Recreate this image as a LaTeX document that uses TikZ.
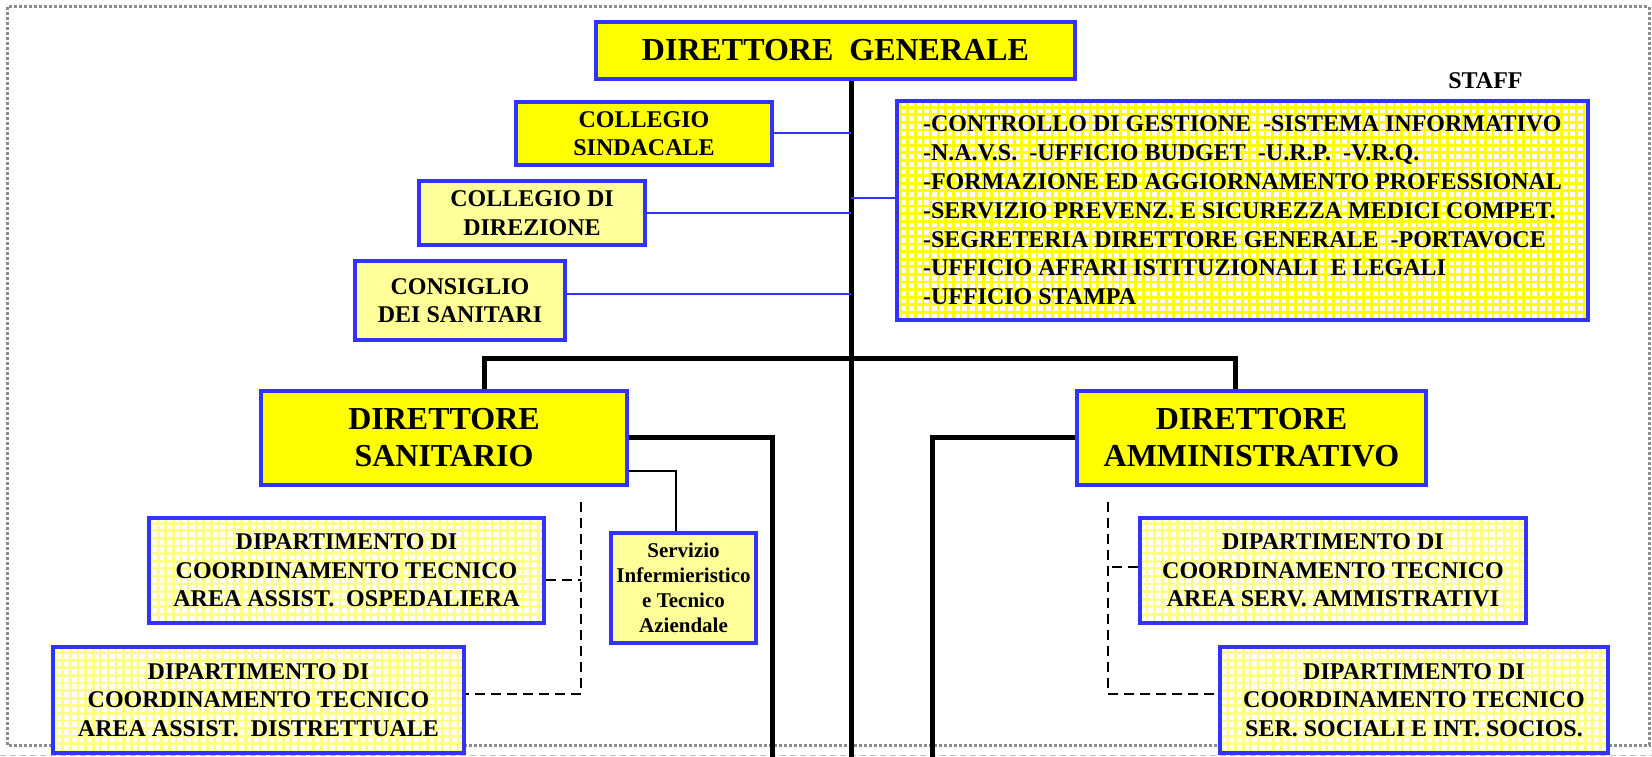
\documentclass[tikz,border=0pt]{standalone}
\usepackage{fontspec}
\setmainfont{Liberation Serif}
\usetikzlibrary{shadows}
\definecolor{bluebd}{HTML}{3333FF}
\definecolor{ybright}{HTML}{FFFF00}
\definecolor{ylight}{HTML}{FFFF99}
\definecolor{ygrid}{HTML}{FFFF88}
\definecolor{bordergray}{HTML}{8C8C8C}
\frenchspacing
\begin{document}
\begin{tikzpicture}[x=1pt,y=-1pt,
  box/.style={draw=bluebd, line width=4pt, align=center, font=\bfseries, inner sep=0pt},
  shad/.style={drop shadow={shadow xshift=2pt, shadow yshift=-2pt, fill=black!30, opacity=1}},
  brightbox/.style={box, fill=ybright},
  lightbox/.style={box, fill=ylight},
  gridbox/.style={box, fill=white, path picture={\draw[ygrid, line width=2.8pt] (path picture bounding box.south west) grid[step=7.6pt] (path picture bounding box.north east);}},
  staffbox/.style={box, fill=white, path picture={\draw[ybright, line width=2.8pt] (path picture bounding box.south west) grid[step=7.6pt] (path picture bounding box.north east);}},
  bar/.style={black, line width=5pt, line join=miter},
  blueln/.style={bluebd, line width=2pt},
  thinln/.style={black, line width=2pt},
  dashln/.style={black, line width=2.5pt, dash pattern=on 10pt off 6pt}
]
\useasboundingbox (0,0) rectangle (1652,757);
% page border
\draw[bordergray, line width=3pt, dash pattern=on 3pt off 2pt] (7,7) rectangle (1649,745);
\draw[black!25, line width=1pt, dash pattern=on 6pt off 4pt] (0,755) -- (1652,755);

% coordinates for free ends
\coordinate (vbot) at (851,757);
\coordinate (barL) at (484,358);
\coordinate (barR) at (1235,358);
\coordinate (dsd) at (772,757);
\coordinate (dad) at (932,757);
\coordinate (ldt) at (581,502);
\coordinate (rdt) at (1108,502);

% nodes
\node[brightbox, shad, minimum width=479pt, minimum height=57pt, font=\bfseries\fontsize{32}{37}\selectfont] (DG) at (835.5,50.5) {DIRETTORE\ \ GENERALE};
\node[font=\bfseries\fontsize{24}{28}\selectfont, inner sep=0pt] (STAFF) at (1485.5,81) {STAFF};
\node[brightbox, shad, minimum width=256pt, minimum height=63pt, font=\bfseries\fontsize{24}{28.5}\selectfont] (CS) at (644,133.5) {COLLEGIO\\SINDACALE};
\node[lightbox, minimum width=226pt, minimum height=64pt, font=\bfseries\fontsize{24}{28.5}\selectfont] (CD) at (532,213) {COLLEGIO DI\\DIREZIONE};
\node[lightbox, minimum width=210pt, minimum height=79pt, font=\bfseries\fontsize{24}{28.5}\selectfont] (CN) at (460,300.5) {CONSIGLIO\\DEI SANITARI};
\node[staffbox, align=left, minimum width=691pt, minimum height=219pt, font=\bfseries\fontsize{24}{28.8}\selectfont] (ST) at (1242.5,210.5) {-CONTROLLO DI GESTIONE\ \ -SISTEMA INFORMATIVO\\-N.A.V.S.\ \ -UFFICIO BUDGET\ \ -U.R.P.\ \ -V.R.Q.\\-FORMAZIONE ED AGGIORNAMENTO PROFESSIONAL\\-SERVIZIO PREVENZ. E SICUREZZA MEDICI COMPET.\\-SEGRETERIA DIRETTORE GENERALE\ \ -PORTAVOCE\\-UFFICIO AFFARI ISTITUZIONALI\ \ E LEGALI\\-UFFICIO STAMPA};
\node[brightbox, shad, minimum width=366pt, minimum height=94pt, font=\bfseries\fontsize{32}{37}\selectfont] (DS) at (444,438) {DIRETTORE\\SANITARIO};
\node[brightbox, shad, minimum width=349pt, minimum height=94pt, font=\bfseries\fontsize{32}{37}\selectfont] (DA) at (1251.5,438) {DIRETTORE\\AMMINISTRATIVO};
\node[lightbox, minimum width=145pt, minimum height=110pt, font=\bfseries\fontsize{21}{25}\selectfont] (SI) at (683.5,588) {Servizio\\Infermieristico\\e Tecnico\\Aziendale};
\node[gridbox, minimum width=395pt, minimum height=105pt, font=\bfseries\fontsize{24}{28.5}\selectfont] (L1) at (346.5,570.5) {DIPARTIMENTO DI\\COORDINAMENTO TECNICO\\AREA ASSIST.\ \ OSPEDALIERA};
\node[gridbox, minimum width=411pt, minimum height=106pt, font=\bfseries\fontsize{24}{28.5}\selectfont] (L2) at (258.5,700) {DIPARTIMENTO DI\\COORDINAMENTO TECNICO\\AREA ASSIST.\ \ DISTRETTUALE};
\node[gridbox, minimum width=386pt, minimum height=105pt, font=\bfseries\fontsize{24}{28.5}\selectfont] (R1) at (1333,570.5) {DIPARTIMENTO DI\\COORDINAMENTO TECNICO\\AREA SERV. AMMISTRATIVI};
\node[gridbox, minimum width=388pt, minimum height=106pt, font=\bfseries\fontsize{24}{28.5}\selectfont] (R2) at (1414,700) {DIPARTIMENTO DI\\COORDINAMENTO TECNICO\\SER. SOCIALI E INT. SOCIOS.};

% connectors
\draw[bar] (DG.south -| vbot) -- (vbot);
\draw[blueln] (CS.east) -- (CS.east -| vbot);
\draw[blueln] (CD.east) -- (CD.east -| vbot);
\draw[blueln] ([yshift=6.5pt]CN.east) -- ([yshift=6.5pt]CN.east -| vbot);
\draw[blueln] ([yshift=13pt]ST.west) -- ([yshift=13pt]ST.west -| vbot);
\draw[bar] (DS.north -| barL) -- (barL) -- (barR) -- (DA.north -| barR);
\draw[bar] ([yshift=1pt]DS.east) -| (dsd);
\draw[bar] ([yshift=1pt]DA.west) -| (dad);
\draw[thinln] ([yshift=-33pt]DS.east) -| ([xshift=-7.5pt]SI.north);
\draw[dashln] (ldt) |- ([yshift=6pt]L2.east);
\draw[dashln] ([yshift=-9.5pt]L1.east) -- ([yshift=-9.5pt]L1.east -| ldt);
\draw[dashln] (rdt) |- ([yshift=6pt]R2.west);
\draw[dashln] ([yshift=3.5pt]R1.west) -- ([yshift=3.5pt]R1.west -| rdt);
\end{tikzpicture}
\end{document}
